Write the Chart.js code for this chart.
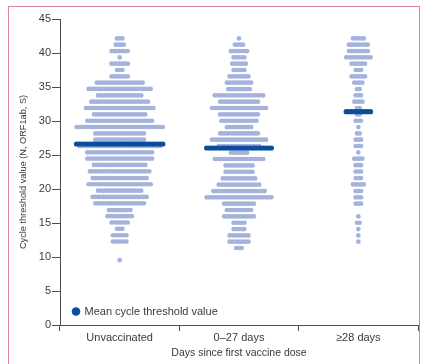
<!DOCTYPE html>
<html><head><meta charset="utf-8">
<script src="https://cdn.jsdelivr.net/npm/chart.js@4.4.1/dist/chart.umd.min.js"></script>
<style>
html,body{margin:0;padding:0;background:#fff;}
#wrap{position:relative;width:422px;height:364px;overflow:hidden;}
#frame{position:absolute;left:8px;top:6px;width:410px;height:400px;border-left:1.5px solid #e2809f;border-top:1.5px solid #e2809f;border-right:1.5px solid #e2809f;}
canvas{position:absolute;left:0;top:0;}
</style></head>
<body><div id="wrap"><div id="frame"></div><canvas id="c" width="422" height="364"></canvas></div>
<script>
// ---- data ----
const categories = ['Unvaccinated', '0\u201327 days', '\u226528 days'];
const yTickValues = [0, 5, 10, 15, 20, 25, 30, 35, 40, 45];

// Ct value of each dot row, and number of dots in that row
const unvaccCt = [42.15, 41.22, 40.29, 39.35, 38.43, 37.50, 36.56, 35.63, 34.71, 33.76, 32.84, 31.91, 30.97, 30.04, 29.12, 28.18, 27.25, 26.32, 25.40, 24.47, 23.54, 22.60, 21.60, 20.70, 19.75, 18.84, 17.90, 16.90, 16.00, 15.07, 14.15, 13.20, 12.28, 9.53];
const unvaccN  = [3, 4, 7, 1, 7, 3, 7, 18, 24, 17, 22, 26, 20, 25, 33, 19, 19, 31, 25, 25, 20, 23, 21, 24, 17, 21, 19, 9, 10, 7, 3, 6, 6, 1];

const early27Ct = [42.15, 41.22, 40.29, 39.36, 38.43, 37.50, 36.56, 35.63, 34.70, 33.77, 32.84, 31.91, 30.97, 30.04, 29.11, 28.18, 27.25, 26.32, 25.34, 24.41, 23.47, 22.54, 21.56, 20.63, 19.70, 18.77, 17.84, 16.91, 15.97, 15.04, 14.11, 13.18, 12.25, 11.32];
const early27N  = [1, 4, 7, 5, 6, 5, 8, 10, 9, 19, 15, 21, 15, 14, 10, 15, 21, 16, 7, 19, 11, 11, 13, 16, 20, 25, 12, 10, 12, 5, 5, 8, 8, 3];

const late28Ct = [42.15, 41.22, 40.29, 39.36, 38.43, 37.50, 36.56, 35.63, 34.70, 33.77, 32.84, 31.91, 30.97, 30.04, 29.11, 28.18, 27.25, 26.32, 25.39, 24.46, 23.50, 22.57, 21.60, 20.67, 19.70, 18.77, 17.84, 15.97, 15.04, 14.11, 13.18, 12.25];
const late28N  = [5, 8, 8, 10, 6, 3, 6, 4, 2, 3, 4, 2, 2, 3, 1, 2, 3, 3, 1, 4, 3, 3, 3, 5, 3, 3, 3, 1, 2, 1, 1, 1];

const meanCt = [26.62, 26.03, 31.37];

// ---- build beeswarm rows through the x scale ----
const DOT_STEP = 0.0226; // horizontal spacing between neighbouring dots (x-units)
const groups = [[unvaccCt, unvaccN], [early27Ct, early27N], [late28Ct, late28N]];
const dots = [];
const meanDots = [];
groups.forEach(([cts, ns], c) => {
  cts.forEach((ct, i) => {
    const n = ns[i];
    for (let j = 0; j < n; j++) dots.push({x: c + (j - (n - 1) / 2) * DOT_STEP, y: ct});
  });
  const w = Math.max(...ns);
  for (let j = 0; j < w; j++) meanDots.push({x: c + (j - (w - 1) / 2) * DOT_STEP, y: meanCt[c]});
});

const LIGHT = '#a5b3dc';
const DARK = '#0b4d9d';
const TXT = '#3a3a3a';
const AX = '#4d4d4d';
Chart.defaults.font.family = "'Liberation Sans', Arial, sans-serif";
Chart.defaults.color = TXT;

const legendPlugin = {
  id: 'insideLegend',
  afterDatasetsDraw(chart) {
    const {ctx, chartArea} = chart;
    const cx = chartArea.left + 16, cy = chartArea.bottom - 13.5;
    ctx.save();
    ctx.fillStyle = DARK;
    ctx.beginPath(); ctx.arc(cx, cy, 4.3, 0, Math.PI * 2); ctx.fill();
    ctx.fillStyle = TXT;
    ctx.font = "11px 'Liberation Sans', Arial, sans-serif";
    ctx.textBaseline = 'middle';
    ctx.textAlign = 'left';
    ctx.fillText('Mean cycle threshold value', cx + 8.5, cy + 0.5);
    ctx.restore();
  }
};

new Chart(document.getElementById('c'), {
  type: 'scatter',
  data: {
    datasets: [
      {label: 'Mean cycle threshold value', data: meanDots, backgroundColor: DARK, pointRadius: 2.6, borderWidth: 0, order: 0},
      {label: 'Cycle threshold value', data: dots, backgroundColor: LIGHT, pointRadius: 2.35, borderWidth: 0, order: 1}
    ]
  },
  options: {
    responsive: false,
    animation: false,
    devicePixelRatio: 1,
    events: [],
    layout: {padding: {left: 0, top: 19, right: 4, bottom: 0}},
    plugins: {legend: {display: false}, tooltip: {enabled: false}},
    scales: {
      x: {
        type: 'linear', min: -0.5, max: 2.5,
        afterBuildTicks: (s) => { s.ticks = categories.map((_, i) => ({value: i})); },
        afterFit: (s) => { s.height = 39; },
        ticks: {autoSkip: false, maxRotation: 0, padding: 0, color: TXT, font: {size: 11},
                callback: (v) => categories[v]},
        grid: {offset: true, drawOnChartArea: false, drawTicks: true, tickLength: 6, color: AX, lineWidth: 1},
        border: {display: true, color: AX, width: 1},
        title: {display: true, text: 'Days since first vaccine dose', color: TXT, font: {size: 10.5}, padding: {top: 0, bottom: 4.4}}
      },
      y: {
        min: 0, max: 45,
        afterBuildTicks: (s) => { s.ticks = yTickValues.map(v => ({value: v})); },
        afterFit: (s) => { s.width = 60; },
        ticks: {padding: 1, color: TXT, font: {size: 11}},
        grid: {drawOnChartArea: false, drawTicks: true, tickLength: 8, color: AX, lineWidth: 1},
        border: {display: true, color: AX, width: 1},
        title: {display: true, text: 'Cycle threshold value (N, ORF1ab, S)', color: TXT, font: {size: 9.2}, padding: {top: 17.5, bottom: 0}}
      }
    }
  },
  plugins: [legendPlugin]
});
</script>
</body></html>
